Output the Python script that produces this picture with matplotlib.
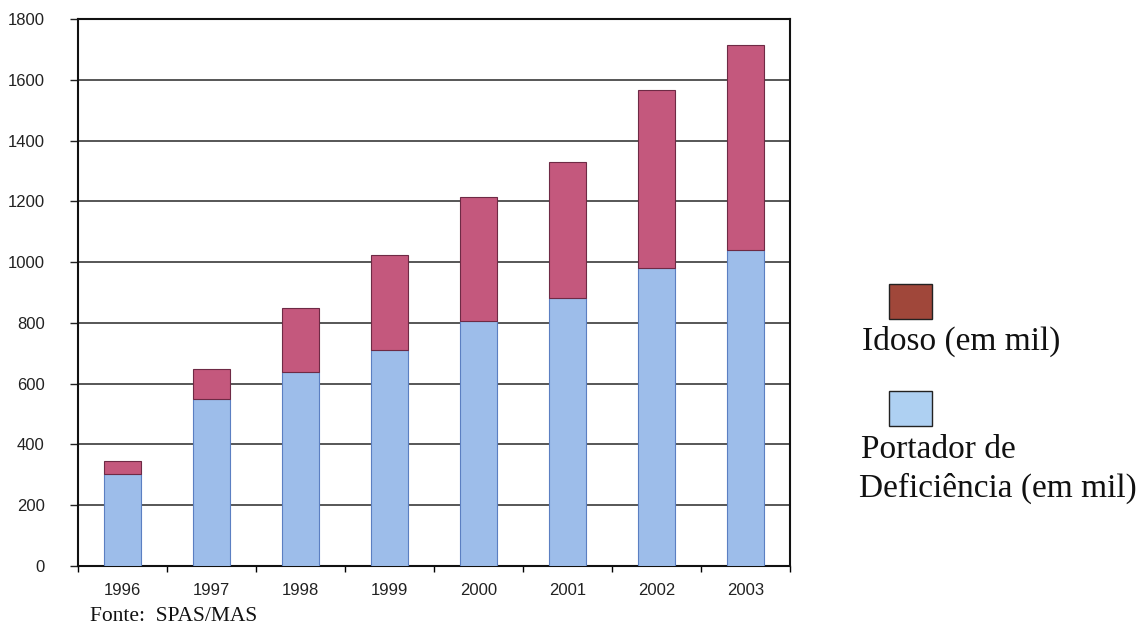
import matplotlib
matplotlib.use('Agg')
from matplotlib import pyplot as plt
from matplotlib.patches import Rectangle

anos = ['1996', '1997', '1998', '1999', '2000', '2001', '2002', '2003']
portador = [302, 550, 639, 711, 806, 882, 981, 1041]
idoso = [43, 100, 211, 313, 409, 446, 586, 674]

cor_portador = '#9dbdea'
cor_idoso = '#c4587d'

fig = plt.figure(figsize=(11.41, 6.26), dpi=100)
ax = fig.add_axes([0.0684, 0.0958, 0.624, 0.8738])

x = range(len(anos))
ax.bar(x, portador, width=0.42, color=cor_portador, edgecolor='#5b7fc2', linewidth=0.8, zorder=3)
ax.bar(x, idoso, bottom=portador, width=0.42, color=cor_idoso, edgecolor='#6e2a45', linewidth=0.8, zorder=3)

ax.set_xlim(-0.5, len(anos) - 0.5)
ax.set_ylim(0, 1800)
ax.set_yticks(range(0, 1801, 200))
ax.set_xticks(list(x))
ax.set_xticklabels(anos)
ax.set_xticks([i - 0.5 for i in range(len(anos) + 1)], minor=True)
ax.tick_params(axis='x', which='major', length=0, pad=12, labelsize=12, colors='#222222')
ax.tick_params(axis='x', which='minor', length=4, width=1, direction='out')
ax.tick_params(axis='y', length=6, width=1, pad=18, labelsize=12, colors='#222222')
for lab in ax.get_yticklabels() + ax.get_xticklabels():
    lab.set_fontfamily('Liberation Sans')
    lab.set_color('#222222')

ax.yaxis.grid(True, color='#3a3a3a', linewidth=1.2, zorder=0)
for s in ax.spines.values():
    s.set_linewidth(1.5)
    s.set_color('#111111')

# legenda desenhada à direita, como no original
fig.patches.append(Rectangle((889 / 1141, 1 - 319 / 626), 43 / 1141, 35 / 626,
                             transform=fig.transFigure, facecolor='#a0473a', edgecolor='#222222', linewidth=1))
fig.text(862 / 1141, 1 - 350 / 626, 'Idoso (em mil)', family='Liberation Serif', fontsize=24,
         va='baseline', ha='left', color='#111111')
fig.patches.append(Rectangle((889 / 1141, 1 - 426 / 626), 43 / 1141, 35 / 626,
                             transform=fig.transFigure, facecolor='#aed0f2', edgecolor='#222222', linewidth=1))
fig.text(861 / 1141, 1 - 458 / 626, 'Portador de', family='Liberation Serif', fontsize=24,
         va='baseline', ha='left', color='#111111')
fig.text(859 / 1141, 1 - 497 / 626, 'Deficiência (em mil)', family='Liberation Serif', fontsize=24,
         va='baseline', ha='left', color='#111111')

fig.text(90 / 1141, 1 - 621 / 626, 'Fonte:  SPAS/MAS', family='Liberation Serif', fontsize=15.5,
         va='baseline', ha='left', color='#111111')

fig.savefig('out.png', dpi=100)
